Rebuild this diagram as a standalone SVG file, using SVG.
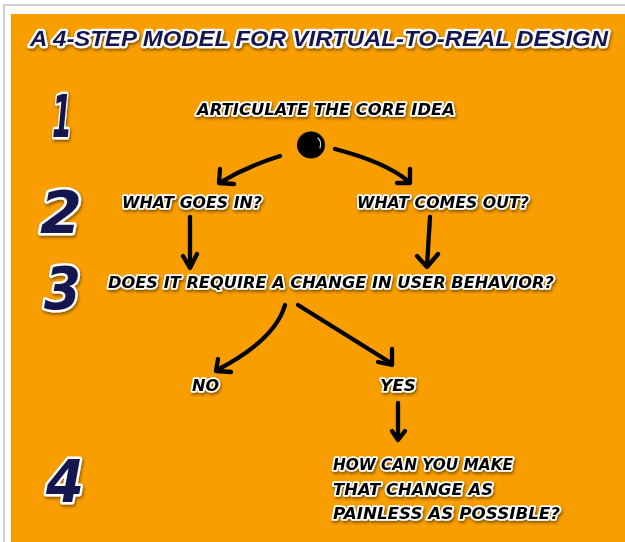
<svg xmlns="http://www.w3.org/2000/svg" width="625" height="542" viewBox="0 0 625 542">
<defs>
<filter id="sh" x="-10%" y="-30%" width="120%" height="170%">
<feDropShadow dx="1" dy="2" stdDeviation="1.4" flood-color="#000" flood-opacity="0.45"/>
</filter>
<style>
.lbl{font-family:"DejaVu Sans","Liberation Sans",sans-serif;font-weight:bold;font-style:italic;fill:#000;stroke:#fff;stroke-width:3.6;stroke-linejoin:round;paint-order:stroke;filter:url(#sh)}
.ttl{font-family:"Liberation Sans","DejaVu Sans",sans-serif;font-weight:bold;font-style:italic;fill:#15154f;stroke:#fff;stroke-width:4.5;stroke-linejoin:round;paint-order:stroke;filter:url(#sh)}
.num{font-family:"DejaVu Sans","Liberation Sans",sans-serif;font-weight:bold;font-style:italic;fill:#15154f;stroke:#fff;stroke-width:5;stroke-linejoin:round;paint-order:stroke;filter:url(#sh)}
.ln{fill:none;stroke:#000;stroke-width:4.3;stroke-linecap:round;stroke-linejoin:round}
</style>
</defs>
<rect x="0" y="0" width="625" height="542" fill="#fff"/>
<path d="M4,542 L4,5 L625,5" fill="none" stroke="#cfcfcf" stroke-width="2"/>
<rect x="11" y="14" width="614" height="528" fill="#f89e00"/>
<text id="title" class="ttl" x="30" y="46" font-size="22" textLength="578" lengthAdjust="spacingAndGlyphs">A 4-STEP MODEL FOR VIRTUAL-TO-REAL DESIGN</text>
<g id="steps">
<text id="step1" class="num" x="52" y="137" font-size="58" textLength="20" lengthAdjust="spacingAndGlyphs">1</text>
<text id="step2" class="num" x="40" y="233" font-size="58" textLength="42" lengthAdjust="spacingAndGlyphs">2</text>
<text id="step3" class="num" x="44" y="309" font-size="58" textLength="37" lengthAdjust="spacingAndGlyphs">3</text>
<text id="step4" class="num" x="46" y="502" font-size="58" textLength="38" lengthAdjust="spacingAndGlyphs">4</text>
</g>
<g id="n-core">
<text class="lbl" x="197" y="115" font-size="16" textLength="258" lengthAdjust="spacingAndGlyphs">ARTICULATE THE CORE IDEA</text>
</g>
<g id="n-dot">
<ellipse cx="311" cy="145" rx="14" ry="13.5" fill="#000"/>
<path d="M318,138 Q322,142 320,148" fill="none" stroke="#fff" stroke-width="1.2" stroke-linecap="round" opacity="0.8"/>
</g>
<g id="n-in">
<text class="lbl" x="122" y="208" font-size="16" textLength="140" lengthAdjust="spacingAndGlyphs">WHAT GOES IN?</text>
</g>
<g id="n-out">
<text class="lbl" x="357" y="208" font-size="16" textLength="172" lengthAdjust="spacingAndGlyphs">WHAT COMES OUT?</text>
</g>
<g id="n-change">
<text class="lbl" x="108" y="288" font-size="16" textLength="446" lengthAdjust="spacingAndGlyphs">DOES IT REQUIRE A CHANGE IN USER BEHAVIOR?</text>
</g>
<g id="n-no">
<text class="lbl" x="192" y="391" font-size="16" textLength="27" lengthAdjust="spacingAndGlyphs">NO</text>
</g>
<g id="n-yes">
<text class="lbl" x="380" y="391" font-size="16" textLength="36" lengthAdjust="spacingAndGlyphs">YES</text>
</g>
<g id="n-painless">
<text class="lbl" x="333" y="470" font-size="16" textLength="180" lengthAdjust="spacingAndGlyphs">HOW CAN YOU MAKE</text>
<text class="lbl" x="333" y="495" font-size="16" textLength="160" lengthAdjust="spacingAndGlyphs">THAT CHANGE AS</text>
<text class="lbl" x="333" y="519" font-size="16" textLength="227" lengthAdjust="spacingAndGlyphs">PAINLESS AS POSSIBLE?</text>
</g>
<g id="connectors">
<path class="ln" d="M280,156 Q248,166 221,182"/>
<polyline class="ln" points="220,169 219,183 234,184"/>
<path class="ln" d="M335,149 Q385,162 408,181"/>
<polyline class="ln" points="410,169 410,183 397,183"/>
<path class="ln" d="M190,217 L190,267"/>
<polyline class="ln" points="183,256 190,268 197,254"/>
<path class="ln" d="M430,217 L427,266"/>
<polyline class="ln" points="417,256 427,267 438,254"/>
<path class="ln" d="M285,305 Q275,340 217,370"/>
<polyline class="ln" points="218,359 216,371 231,372"/>
<path class="ln" d="M298,305 L391,363"/>
<polyline class="ln" points="392,349 392,365 378,362"/>
<path class="ln" d="M398,403 L398,438"/>
<polyline class="ln" points="392,431 398,440 405,431"/>
</g>
</svg>
